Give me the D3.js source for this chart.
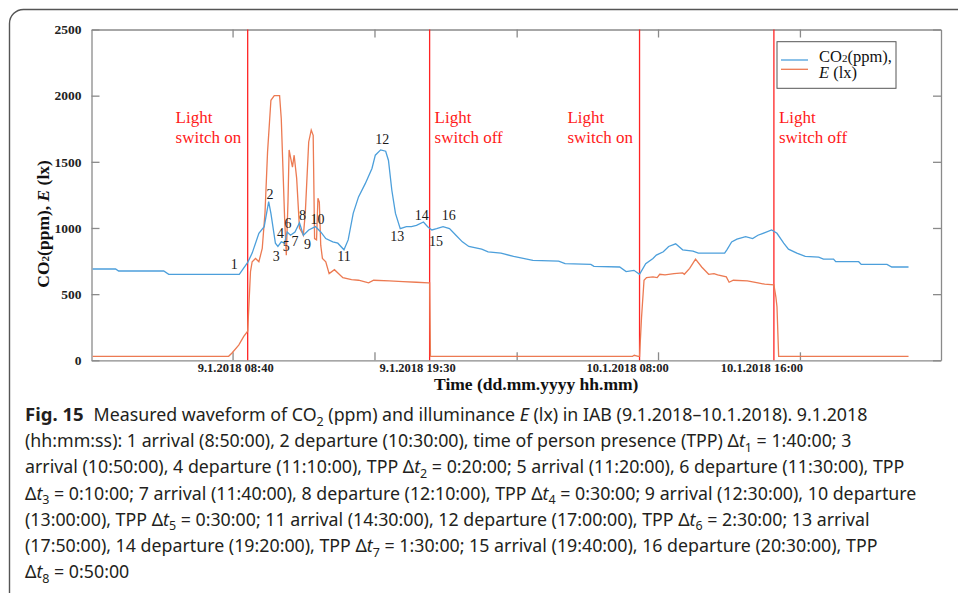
<!DOCTYPE html>
<html>
<head>
<meta charset="utf-8">
<script src="https://cdn.jsdelivr.net/npm/d3@7"></script>
<style>
  body { margin: 0; background: #fff; }
  svg { display: block; }
  .axis path, .axis line { stroke: #8a8a8a; stroke-width: 1.3; }
  .axis text { font: bold 13.5px 'Liberation Serif', serif; fill: #222; }
  .serif { font-family: 'Liberation Serif', 'Times New Roman', serif; }
  .caption { font-family: 'Noto Sans', 'Open Sans', sans-serif; font-size: 17.8px; fill: #231f20; }
</style>
</head>
<body>
<svg id="chart" width="958" height="593"></svg>
<script>
// times are "DD HH:MM" in January 2018
const co2Times = ['08 23:26','09 00:48','09 00:59','09 03:40','09 03:58','09 08:10','09 08:25','09 08:40','09 08:56','09 09:20',
  '09 09:39','09 09:55','09 10:03','09 10:19','09 10:28','09 10:40','09 10:52','09 11:01','09 11:13','09 11:29',
  '09 11:45','09 11:59','09 12:18','09 12:42','09 13:01','09 13:19','09 13:44','09 14:02','09 14:24','09 14:39',
  '09 14:57','09 15:16','09 15:40','09 16:04','09 16:16','09 16:35','09 16:53','09 17:03','09 17:15','09 17:28',
  '09 17:45','09 18:07','09 18:25','09 18:43','09 19:08','09 19:23','09 19:38','09 19:55','09 20:18','09 20:41',
  '09 21:04','09 21:27','09 21:50','09 22:36','09 22:59','09 23:45','10 00:30','10 01:39','10 03:11','10 03:34',
  '10 05:06','10 05:17','10 06:49','10 07:12','10 07:40','10 08:00','10 08:22','10 08:48','10 09:00','10 09:25',
  '10 09:44','10 10:09','10 10:34','10 11:11','10 11:30','10 13:04','10 13:12','10 13:29','10 13:48','10 14:19',
  '10 14:44','10 15:03','10 15:28','10 15:52','10 16:11','10 16:35','10 16:52','10 17:22','10 17:52','10 18:40',
  '10 18:57','10 19:33','10 19:41','10 21:03','10 21:12','10 22:44','10 23:01','11 00:01'];
const co2Values = [690,690,675,675,650,650,695,740,810,960,
  1010,1200,1110,885,860,895,885,970,945,970,
  1040,945,985,1010,970,920,895,885,835,910,
  1110,1235,1335,1450,1550,1590,1580,1510,1285,1110,
  995,1010,1010,1020,1045,1010,985,995,1010,995,
  945,895,860,840,820,810,785,755,750,730,
  725,710,705,670,680,650,730,770,795,820,
  860,880,835,825,810,810,835,895,915,935,
  920,945,965,985,960,885,840,810,785,780,
  765,765,745,745,725,725,705,705];

const luxTimes = ['08 23:26','09 07:32','09 07:44','09 08:08','09 08:26','09 08:40','09 08:50','09 08:56','09 09:08','09 09:20',
  '09 09:32','09 09:42','09 09:51','09 10:03','09 10:15','09 10:34','09 10:40','09 10:52','09 10:58','09 11:04',
  '09 11:08','09 11:14','09 11:20','09 11:26','09 11:35','09 11:45','09 11:53','09 11:59','09 12:06','09 12:18',
  '09 12:27','09 12:34','09 12:39','09 12:46','09 12:51','09 12:56','09 13:01','09 13:07','09 13:19','09 13:31',
  '09 13:50','09 14:20','09 14:51','09 15:16','09 15:52','09 16:10','09 17:06','09 17:55','09 18:43','09 19:26',
  '09 19:30','09 19:33','10 07:35','10 07:41','10 07:55','10 08:00','10 08:07','10 08:16','10 08:25','10 08:48',
  '10 09:03','10 09:12','10 09:31','10 10:03','10 10:34','10 10:40','10 10:59','10 11:20','10 11:42','10 12:07',
  '10 12:26','10 12:39','10 13:10','10 13:20','10 13:35','10 14:25','10 15:03','10 15:27','10 16:00','10 16:07',
  '10 16:11','10 16:17','11 00:01'];
const luxValues = [30,30,55,115,180,220,670,745,770,745,
  845,1120,1575,1965,2000,2000,1825,1070,795,1200,
  1590,1525,1460,1550,1375,1000,970,945,1120,1650,
  1740,1700,920,910,1225,1195,870,770,745,655,
  685,625,610,605,585,605,600,595,590,585,
  585,30,30,38,30,30,320,605,625,630,
  625,650,645,655,660,650,695,765,705,650,
  655,645,630,590,605,600,585,575,570,480,
  405,30,30];

const switchTimes = ['09 08:40','09 19:30','10 08:00','10 16:00'];
const switchStates = ['on','off','on','off'];
const switchTickLabels = ['9.1.2018 08:40','9.1.2018 19:30','10.1.2018 08:00','10.1.2018 16:00'];
const tickTimes = ['09 07:46','09 16:13','10 00:41','10 09:06','10 17:33'];
const yTicks = [0, 500, 1000, 1500, 2000, 2500];

// numbered arrival / departure marks
const markLabels = ['1','2','3','4','5','6','7','8','9','10','11','12','13','14','15','16'];
const markTimes = ['09 07:52','09 10:00','09 10:22','09 10:37','09 10:58','09 11:04','09 11:29','09 11:56',
  '09 12:14','09 12:49','09 14:24','09 16:41','09 17:34','09 19:02','09 19:53','09 20:38'];
const markValues = [730,1255,790,965,860,1035,900,1095,875,1070,790,1670,940,1095,900,1095];

const parse = s => d3.timeParse('%Y-%m-%d %H:%M')('2018-01-' + s);

const svg = d3.select('#chart');
const margin = { top: 29.5, right: 17, bottom: 232.7, left: 91.5 };
const width = 958 - margin.left - margin.right;
const height = 593 - margin.top - margin.bottom;

// card frame
svg.append('rect')
  .attr('x', 9.5).attr('y', 9.5)
  .attr('width', 1000).attr('height', 700)
  .attr('rx', 14)
  .attr('fill', 'none')
  .attr('stroke', '#555')
  .attr('stroke-width', 1.4);

const g = svg.append('g')
  .attr('transform', 'translate(' + margin.left + ',' + margin.top + ')');

const x = d3.scaleTime()
  .domain([parse('08 23:22'), parse('11 01:57')])
  .range([0, width]);

const y = d3.scaleLinear()
  .domain([0, 2500])
  .range([height, 0]);

// axes, ticks pointing inward
g.append('g').attr('class', 'axis')
  .call(d3.axisLeft(y).tickValues(yTicks).tickFormat(d3.format('d'))
    .tickSizeInner(-8).tickSizeOuter(0).tickPadding(10));
g.append('g').attr('class', 'axis')
  .attr('transform', 'translate(' + width + ',0)')
  .call(d3.axisRight(y).tickValues(yTicks).tickSizeInner(-8).tickSizeOuter(0).tickFormat(''));
g.append('g').attr('class', 'axis')
  .attr('transform', 'translate(0,' + height + ')')
  .call(d3.axisBottom(x).tickValues(tickTimes.map(parse)).tickSizeInner(-8).tickSizeOuter(0).tickFormat(''));
g.append('g').attr('class', 'axis')
  .call(d3.axisTop(x).tickValues(tickTimes.map(parse)).tickSizeInner(-8).tickSizeOuter(0).tickFormat(''));

// time labels under the switch moments
g.selectAll('.tlabel')
  .data(switchTickLabels)
  .enter().append('text')
  .attr('class', 'serif')
  .attr('x', (d, i) => x(parse(switchTimes[i])) - 12)
  .attr('y', height + 11.8)
  .attr('text-anchor', 'middle')
  .attr('font-size', '12.5px')
  .attr('font-weight', 'bold')
  .attr('fill', '#222')
  .text(d => d);

// axis titles
g.append('text')
  .attr('class', 'serif')
  .attr('x', width / 2 + 20)
  .attr('y', height + 30)
  .attr('text-anchor', 'middle')
  .attr('font-size', '17.5px')
  .attr('font-weight', 'bold')
  .attr('fill', '#111')
  .text('Time (dd.mm.yyyy hh.mm)');

const yTitle = g.append('text')
  .attr('class', 'serif')
  .attr('transform', 'translate(-42.5,' + (height / 2 + 29) + ') rotate(-90)')
  .attr('text-anchor', 'middle')
  .attr('font-size', '17.5px')
  .attr('font-weight', 'bold')
  .attr('fill', '#111');
yTitle.append('tspan').text('CO');
yTitle.append('tspan').attr('font-size', '11px').text('2');
yTitle.append('tspan').text('(ppm), ');
yTitle.append('tspan').attr('font-style', 'italic').text('E');
yTitle.append('tspan').text(' (lx)');

// light switch lines
g.selectAll('.switch')
  .data(switchTimes)
  .enter().append('line')
  .attr('x1', d => x(parse(d))).attr('x2', d => x(parse(d)))
  .attr('y1', 0).attr('y2', height)
  .attr('stroke', '#ff2424')
  .attr('stroke-width', 1.3);

switchTimes.forEach((t, i) => {
  const lg = g.append('g').attr('class', 'serif').attr('fill', '#ff1a1a').attr('font-size', '17px');
  lg.append('text').attr('y', y(1790)).text('Light');
  lg.append('text').attr('y', y(1790) + 19.5).text('switch ' + switchStates[i]);
  const w = lg.node().getBBox().width;
  const xs = switchStates[i] === 'on' ? x(parse(t)) - 6 - w : x(parse(t)) + 5;
  lg.attr('transform', 'translate(' + xs + ',0)');
});

// series
const line = d3.line()
  .x(d => x(d[0]))
  .y(d => y(d[1]));

g.append('path')
  .datum(luxTimes.map((t, i) => [parse(t), luxValues[i]]))
  .attr('fill', 'none')
  .attr('stroke', '#ec7a52')
  .attr('stroke-width', 1.3)
  .attr('d', line);

g.append('path')
  .datum(co2Times.map((t, i) => [parse(t), co2Values[i]]))
  .attr('fill', 'none')
  .attr('stroke', '#4c9fdb')
  .attr('stroke-width', 1.3)
  .attr('d', line);

// numbered marks
g.selectAll('.mark')
  .data(markLabels)
  .enter().append('text')
  .attr('class', 'serif')
  .attr('x', (d, i) => x(parse(markTimes[i])))
  .attr('y', (d, i) => y(markValues[i]))
  .attr('dy', '0.35em')
  .attr('text-anchor', 'middle')
  .attr('font-size', '14px')
  .attr('fill', '#1a1a1a')
  .text(d => d);

// legend
const legend = g.append('g').attr('transform', 'translate(685.5,12.2)');
legend.append('rect')
  .attr('width', 119).attr('height', 46.6)
  .attr('fill', '#fff').attr('stroke', '#555').attr('stroke-width', 1);
legend.append('line').attr('x1', 4).attr('x2', 31).attr('y1', 18.3).attr('y2', 18.3)
  .attr('stroke', '#4c9fdb').attr('stroke-width', 1.3);
legend.append('line').attr('x1', 4).attr('x2', 31).attr('y1', 27.6).attr('y2', 27.6)
  .attr('stroke', '#ec7a52').attr('stroke-width', 1.3);
const l1 = legend.append('text').attr('class', 'serif').attr('x', 42).attr('y', 20.5).attr('font-size', '16.5px').attr('fill', '#111');
l1.append('tspan').text('CO');
l1.append('tspan').attr('font-size', '11px').text('2');
l1.append('tspan').text('(ppm),');
const l2 = legend.append('text').attr('class', 'serif').attr('x', 42).attr('y', 36.5).attr('font-size', '16.5px').attr('fill', '#111');
l2.append('tspan').attr('font-style', 'italic').text('E');
l2.append('tspan').text(' (lx)');

// caption
const captionLines = [
  [['Fig. 15', 'b'], ['Measured waveform of CO', 'g'], ['2', 's'], [' (ppm) and illuminance ', ''], ['E', 'i'], [' (lx) in IAB (9.1.2018–10.1.2018). 9.1.2018', '']],
  [['(hh:mm:ss): 1 arrival (8:50:00), 2 departure (10:30:00), time of person presence (TPP) Δ', ''], ['t', 'i'], ['1', 's'], [' = 1:40:00; 3', '']],
  [['arrival (10:50:00), 4 departure (11:10:00), TPP Δ', ''], ['t', 'i'], ['2', 's'], [' = 0:20:00; 5 arrival (11:20:00), 6 departure (11:30:00), TPP', '']],
  [['Δ', ''], ['t', 'i'], ['3', 's'], [' = 0:10:00; 7 arrival (11:40:00), 8 departure (12:10:00), TPP Δ', ''], ['t', 'i'], ['4', 's'], [' = 0:30:00; 9 arrival (12:30:00), 10 departure', '']],
  [['(13:00:00), TPP Δ', ''], ['t', 'i'], ['5', 's'], [' = 0:30:00; 11 arrival (14:30:00), 12 departure (17:00:00), TPP Δ', ''], ['t', 'i'], ['6', 's'], [' = 2:30:00; 13 arrival', '']],
  [['(17:50:00), 14 departure (19:20:00), TPP Δ', ''], ['t', 'i'], ['7', 's'], [' = 1:30:00; 15 arrival (19:40:00), 16 departure (20:30:00), TPP', '']],
  [['Δ', ''], ['t', 'i'], ['8', 's'], [' = 0:50:00', '']]
];

captionLines.forEach((segs, li) => {
  const t = svg.append('text').attr('class', 'caption').attr('x', 25).attr('y', 421 + li * 26.2);
  let prev = '';
  segs.forEach(([s, st]) => {
    const sp = t.append('tspan').text(s);
    if (st === 'b') sp.attr('font-weight', 'bold').attr('font-size', '18.5px');
    if (st === 'g') sp.attr('dx', 10);
    if (st === 'i') sp.attr('font-style', 'italic');
    if (st === 's') sp.attr('font-size', '12.5px').attr('dy', 4.5);
    if (prev === 's') sp.attr('dy', -4.5);
    prev = st;
  });
});
</script>
</body>
</html>
